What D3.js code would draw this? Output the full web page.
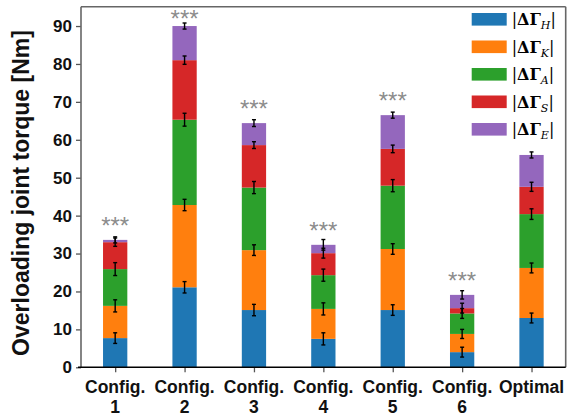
<!DOCTYPE html>
<html>
<head>
<meta charset="utf-8">
<script src="https://cdn.jsdelivr.net/npm/d3@7"></script>
<style>
    body { margin: 0; background: #fff; }
    svg  { display: block; }
</style>
</head>
<body>
<svg id="torque_plot" width="577" height="418"></svg>
<script>
// categories, tick labels and legend subscripts
const configs    = ["Config.\n1", "Config.\n2", "Config.\n3", "Config.\n4", "Config.\n5", "Config.\n6", "Optimal"];
const yTicks     = [0, 10, 20, 30, 40, 50, 60, 70, 80, 90];
const jointKeys  = ["H", "K", "A", "S", "E"];
const starred    = [true, true, true, true, true, true, false];

// segment heights (Nm), stacked bottom -> top
const torqueH = [7.7, 21.1, 15.1, 7.5, 15.1, 4.0, 13.0];
const torqueK = [8.5, 21.7, 15.8, 7.9, 16.1, 4.8, 13.2];
const torqueA = [9.7, 22.5, 16.5, 8.9, 16.7, 5.4, 14.2];
const torqueS = [7.1, 15.7, 11.2, 5.8, 9.7, 1.4, 7.2];
const torqueE = [0.6, 9.0, 5.8, 2.2, 8.9, 3.5, 8.4];

// error half-widths at the top of each segment
const errH = [1.4, 1.5, 1.5, 1.6, 1.4, 1.3, 1.3];
const errK = [1.6, 1.5, 1.4, 1.6, 1.4, 1.2, 1.3];
const errA = [1.7, 1.7, 1.6, 1.6, 1.6, 1.3, 1.4];
const errS = [1.1, 1.1, 0.9, 1.3, 1.0, 1.3, 1.2];
const errE = [0.8, 0.8, 0.9, 1.4, 0.8, 1.1, 0.8];

const colors = ["#1f77b4", "#ff7f0e", "#2ca02c", "#d62728", "#9467bd"];

const series = [torqueH, torqueK, torqueA, torqueS, torqueE];
const errors = [errH, errK, errA, errS, errE];

const svg    = d3.select("#torque_plot");
const margin = { left: 81, right: 11.3, top: 6.7, bottom: 50.7 };
const width  = 577 - margin.left - margin.right;
const height = 418 - margin.top  - margin.bottom;

const chart = svg.append("g")
    .attr("transform", `translate(${margin.left},${margin.top})`);

const barWidth = 0.35;
const x = d3.scaleLinear()
    .domain([-0.5 + 0.0075, configs.length - 1 + 0.4925])
    .range([0, width]);
const y = d3.scaleLinear()
    .domain([0, 95.1])
    .range([height, 0]);

// build stacked rows
const rows = configs.map((c, i) => {
    let base = 0;
    return series.map((s, k) => {
        const seg = { i: i, k: k, y0: base, y1: base + s[i], err: errors[k][i] };
        base += s[i];
        return seg;
    });
});
const segs = rows.flat();

// bars
chart.selectAll(".seg").data(segs).enter().append("rect")
    .attr("class", "seg")
    .attr("x",      d => x(d.i - barWidth / 2))
    .attr("width",  d => x(barWidth) - x(0))
    .attr("y",      d => y(d.y1))
    .attr("height", d => y(d.y0) - y(d.y1))
    .attr("fill",   d => colors[d.k]);

// error bars
const capW = 2;
const eb = chart.selectAll(".err").data(segs).enter().append("g")
    .attr("class", "err")
    .attr("stroke", "#000")
    .attr("stroke-width", 1.4);
eb.append("line")
    .attr("x1", d => x(d.i)).attr("x2", d => x(d.i))
    .attr("y1", d => y(d.y1 - d.err)).attr("y2", d => y(d.y1 + d.err));
eb.append("line")
    .attr("x1", d => x(d.i) - capW).attr("x2", d => x(d.i) + capW)
    .attr("y1", d => y(d.y1 - d.err)).attr("y2", d => y(d.y1 - d.err));
eb.append("line")
    .attr("x1", d => x(d.i) - capW).attr("x2", d => x(d.i) + capW)
    .attr("y1", d => y(d.y1 + d.err)).attr("y2", d => y(d.y1 + d.err));

// significance stars
chart.selectAll(".star").data(rows.filter((r, i) => starred[i])).enter().append("text")
    .attr("class", "star")
    .attr("x", r => x(r[0].i))
    .attr("y", r => y(Math.min(r[4].y1 + 5.2, 93.2)) + 13.5)
    .attr("text-anchor", "middle")
    .attr("fill", "#8c8c8c")
    .style("font-family", "Liberation Sans, Arial, sans-serif")
    .style("font-size", "24px")
    .text("***");

// axes
const axisY = chart.append("g")
    .call(d3.axisLeft(y).tickValues(yTicks).tickSize(5).tickPadding(4));
axisY.select(".domain").remove();
axisY.selectAll(".tick line").attr("stroke", "#555").attr("stroke-width", 1.3);
axisY.selectAll(".tick text")
    .attr("fill", "#111")
    .style("font-family", "Liberation Sans, Arial, sans-serif")
    .style("font-size", "17px")
    .style("font-weight", "bold");

const axisX = chart.append("g")
    .attr("transform", `translate(0,${height})`)
    .call(d3.axisBottom(x).tickValues(d3.range(configs.length)).tickSize(5).tickFormat(""));
axisX.select(".domain").remove();
axisX.selectAll(".tick line").attr("stroke", "#555").attr("stroke-width", 1.3);

const xl = chart.selectAll(".xlab").data(configs).enter().append("text")
    .attr("class", "xlab")
    .attr("x", (d, i) => x(i))
    .attr("y", height + 26)
    .attr("text-anchor", "middle")
    .attr("fill", "#111")
    .style("font-family", "Liberation Sans, Arial, sans-serif")
    .style("font-size", "17.5px")
    .style("font-weight", "bold");
xl.each(function(d) {
    const parts = d.split("\n");
    d3.select(this).selectAll("tspan").data(parts).enter().append("tspan")
        .attr("x", d3.select(this).attr("x"))
        .attr("dy", (p, j) => j === 0 ? 0 : 20)
        .text(p => p);
});

// spines
chart.append("line").attr("x1", 0).attr("x2", 0).attr("y1", 0).attr("y2", height)
    .attr("stroke", "#666").attr("stroke-width", 1.6);
chart.append("line").attr("x1", width).attr("x2", width).attr("y1", 0).attr("y2", height)
    .attr("stroke", "#666").attr("stroke-width", 1.6);
chart.append("line").attr("x1", 0).attr("x2", width).attr("y1", 0).attr("y2", 0)
    .attr("stroke", "#666").attr("stroke-width", 1.6);
chart.append("line").attr("x1", -3).attr("x2", width).attr("y1", height).attr("y2", height)
    .attr("stroke", "#000").attr("stroke-width", 1.6);

// y axis label
svg.append("text")
    .attr("transform", `translate(29,193) rotate(-90)`)
    .attr("text-anchor", "middle")
    .attr("fill", "#111")
    .style("font-family", "Liberation Sans, Arial, sans-serif")
    .style("font-size", "23px")
    .style("font-weight", "bold")
    .text("Overloading joint torque [Nm]");

// legend
const legend = svg.append("g").attr("transform", "translate(471.7,19.3)");
const li = legend.selectAll(".leg").data(jointKeys).enter().append("g")
    .attr("class", "leg")
    .attr("transform", (d, i) => `translate(0,${i * 27.5})`);
li.append("rect")
    .attr("x", 0).attr("y", -6.3)
    .attr("width", 35).attr("height", 12.6)
    .attr("fill", (d, i) => colors[i]);
const lt = li.append("text")
    .attr("x", 40)
    .attr("y", 6)
    .attr("fill", "#000")
    .style("font-family", "DejaVu Serif, Liberation Serif, serif")
    .style("font-size", "16px");
lt.append("tspan").text("|");
lt.append("tspan").style("font-weight", "bold").text("ΔΓ");
lt.append("tspan").attr("dy", 4).style("font-size", "11px").style("font-style", "italic").text(d => d);
lt.append("tspan").attr("dy", -4).text("|");
</script>
</body>
</html>
